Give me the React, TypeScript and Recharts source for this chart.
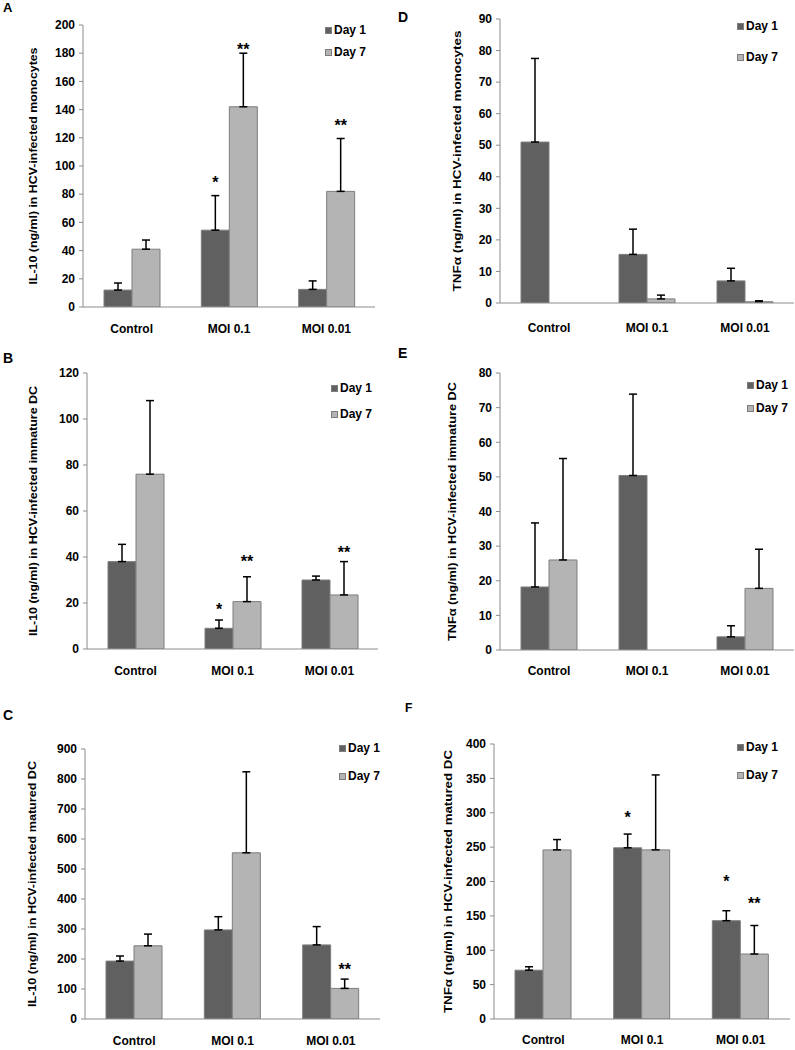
import React from "react";
import { BarChart, Bar, XAxis, YAxis, ErrorBar, Legend, LabelList, Label } from "recharts";

const categories = ["Control", "MOI 0.1", "MOI 0.01"];
const seriesNames = ["Day 1", "Day 7"];

// A: IL-10, monocytes
const aDay1 = [12, 54.5, 12.5];
const aDay1Err = [5, 24.5, 6];
const aDay7 = [41, 142, 82];
const aDay7Err = [6.5, 38, 37.5];
const aStars1 = ["", "*", ""];
const aStarAt1 = [0, 91, 0];
const aStars7 = ["", "**", "**"];
const aStarAt7 = [0, 185, 131];

// B: IL-10, immature DC
const bDay1 = [38, 9, 30];
const bDay1Err = [7.5, 3.6, 1.7];
const bDay7 = [76, 20.6, 23.5];
const bDay7Err = [32, 10.8, 14.5];
const bStars1 = ["", "*", ""];
const bStarAt1 = [0, 18.8, 0];
const bStars7 = ["", "**", "**"];
const bStarAt7 = [0, 39.4, 43.3];

// C: IL-10, matured DC
const cDay1 = [193, 297, 247];
const cDay1Err = [17, 44, 61];
const cDay7 = [244, 554, 102];
const cDay7Err = [39, 270, 31];
const cStars7 = ["", "", "**"];
const cStarAt7 = [0, 0, 177];

// D: TNFa, monocytes
const dDay1 = [51, 15.4, 7];
const dDay1Err = [26.5, 8, 4];
const dDay7 = [0, 1.3, 0.4];
const dDay7Err = [null, 1.2, 0.3];

// E: TNFa, immature DC
const eDay1 = [18.2, 50.4, 3.8];
const eDay1Err = [18.5, 23.5, 3.2];
const eDay7 = [26, 0, 17.8];
const eDay7Err = [29.3, null, 11.3];

// F: TNFa, matured DC
const fDay1 = [71, 249, 143];
const fDay1Err = [5, 20, 14.5];
const fDay7 = [246, 246, 94.5];
const fDay7Err = [15, 109, 41.5];
const fStars1 = ["", "*", "*"];
const fStarAt1 = [0, 298, 205.5];
const fStars7 = ["", "", "**"];
const fStarAt7 = [0, 0, 173];

const ticksA = [0, 20, 40, 60, 80, 100, 120, 140, 160, 180, 200];
const ticksB = [0, 20, 40, 60, 80, 100, 120];
const ticksC = [0, 100, 200, 300, 400, 500, 600, 700, 800, 900];
const ticksD = [0, 10, 20, 30, 40, 50, 60, 70, 80, 90];
const ticksE = [0, 10, 20, 30, 40, 50, 60, 70, 80];
const ticksF = [0, 50, 100, 150, 200, 250, 300, 350, 400];

const DARK = "#606060";
const LIGHT = "#b4b4b4";
const EDGE = "#7d7d7d";
const AXIS = "#8c8c8c";
const FONT = "'Liberation Sans', Arial, sans-serif";

function buildRows(d1: number[], e1: (number | null)[], d7: number[], e7: (number | null)[]) {
  return categories.map((cat, i) => ({
    cat,
    d1: d1[i],
    e1: e1[i] == null ? null : [0, e1[i]],
    d7: d7[i],
    e7: e7[i] == null ? null : [0, e7[i]],
  }));
}

function starLabel(values: number[], marks?: string[], at?: number[]) {
  return (p: any) => {
    const i = p.index;
    const m = marks?.[i];
    if (!m || !at) return null;
    const h = Number(p.height);
    const y = Number(p.y);
    const ppu = h / values[i];
    const cy = y + h - at[i] * ppu;
    return (
      <text x={Number(p.x) + Number(p.width) / 2} y={cy + 9} textAnchor="middle" fontSize={16}
        fontWeight="bold" fontFamily={FONT} fill="#000">
        {m}
      </text>
    );
  };
}

function legendContent(gap: number) {
  return () => (
    <div style={{ fontFamily: FONT, fontWeight: "bold", fontSize: 12, color: "#000" }}>
      {seriesNames.map((n, i) => (
        <div key={n} style={{ display: "flex", alignItems: "center", height: 14, marginBottom: i === 0 ? gap - 14 : 0 }}>
          <span style={{ display: "inline-block", width: 7, height: 7, boxSizing: "border-box",
            background: i === 0 ? DARK : LIGHT, border: `1px solid ${EDGE}`, marginRight: 2 }} />
          <span>{n}</span>
        </div>
      ))}
    </div>
  );
}

type PanelProps = {
  left: number; top: number; width: number; height: number;
  margin: { top: number; right: number; bottom: number; left: number };
  yWidth: number; domain: [number, number]; ticks: number[];
  yLabel: string; yLabelX: number; yLabelLen: number; catMargin: number;
  legendX: number; legendY: number; legendGap: number;
  d1: number[]; e1: (number | null)[]; d7: number[]; e7: (number | null)[];
  stars1?: string[]; at1?: number[]; stars7?: string[]; at7?: number[];
};

function Panel(p: PanelProps) {
  const rows = buildRows(p.d1, p.e1, p.d7, p.e7);
  const tickFont = { fill: "#000", fontSize: 12, fontWeight: "bold", fontFamily: FONT };
  return (
    <div style={{ position: "absolute", left: p.left, top: p.top, width: p.width, height: p.height }}>
      <BarChart width={p.width} height={p.height} data={rows} margin={p.margin} barGap={0}>
        <XAxis xAxisId="div" type="number" domain={[0, 3]} ticks={[0, 1, 2, 3]} tick={false}
          axisLine={false} tickLine={{ stroke: AXIS }} tickSize={5} height={0} allowDataOverflow />
        <XAxis xAxisId="cat" dataKey="cat" axisLine={{ stroke: AXIS }} tickLine={false} tickSize={0}
          tickMargin={p.catMargin} height={30} interval={0} tick={tickFont} />
        <YAxis domain={p.domain} ticks={p.ticks} width={p.yWidth} interval={0} tickSize={4} tickMargin={4}
          axisLine={{ stroke: AXIS }} tickLine={{ stroke: AXIS }} tick={tickFont} allowDataOverflow>
          <Label
            content={(lp: any) => {
              const vb = lp.viewBox;
              const cy = vb.y + vb.height / 2;
              return (
                <text x={p.yLabelX} y={cy} transform={`rotate(-90 ${p.yLabelX} ${cy})`} textAnchor="middle"
                  dominantBaseline="central" fontSize={11} fontWeight="bold" fontFamily={FONT} fill="#000"
                  textLength={p.yLabelLen} lengthAdjust="spacingAndGlyphs">
                  {p.yLabel}
                </text>
              );
            }}
          />
        </YAxis>
        <Legend layout="horizontal" verticalAlign="middle" align="center" content={legendContent(p.legendGap)}
          wrapperStyle={{ position: "absolute", left: p.legendX, top: p.legendY, width: "auto", height: "auto" }} />
        <Bar xAxisId="cat" dataKey="d1" name="Day 1" fill={DARK} stroke={EDGE} barSize={28} isAnimationActive={false}>
          <ErrorBar dataKey="e1" width={4} stroke="#000" strokeWidth={1.5} direction="y" />
          <LabelList dataKey="d1" content={starLabel(p.d1, p.stars1, p.at1)} />
        </Bar>
        <Bar xAxisId="cat" dataKey="d7" name="Day 7" fill={LIGHT} stroke={EDGE} barSize={28} isAnimationActive={false}>
          <ErrorBar dataKey="e7" width={4} stroke="#000" strokeWidth={1.5} direction="y" />
          <LabelList dataKey="d7" content={starLabel(p.d7, p.stars7, p.at7)} />
        </Bar>
      </BarChart>
    </div>
  );
}

const letterStyle = (left: number, top: number, size: number): React.CSSProperties => ({
  position: "absolute", left, top, fontSize: size, lineHeight: 1, fontWeight: "bold", fontFamily: FONT, color: "#000",
});

export default function App() {
  return (
    <div style={{ position: "absolute", left: 0, top: 0, width: 795, height: 1050, background: "#fff", overflow: "hidden" }}>
      <div style={letterStyle(3, 1, 13)}>A</div>
      <div style={letterStyle(398, 10, 14)}>D</div>
      <div style={letterStyle(3, 351, 14)}>B</div>
      <div style={letterStyle(398, 346, 14)}>E</div>
      <div style={letterStyle(3, 708, 14)}>C</div>
      <div style={letterStyle(405, 702, 12)}>F</div>

      <Panel left={0} top={0} width={400} height={340} margin={{ top: 25, right: 25, bottom: 3, left: 0 }}
        yWidth={83} domain={[0, 200]} ticks={ticksA} yLabel="IL-10 (ng/ml) in HCV-infected monocytes"
        yLabelX={33} yLabelLen={237} catMargin={17} legendX={325} legendY={23} legendGap={22}
        d1={aDay1} e1={aDay1Err} d7={aDay7} e7={aDay7Err} stars1={aStars1} at1={aStarAt1} stars7={aStars7} at7={aStarAt7} />

      <Panel left={400} top={0} width={395} height={340} margin={{ top: 19, right: 1, bottom: 7, left: 0 }}
        yWidth={100} domain={[0, 90]} ticks={ticksD} yLabel="TNFα (ng/ml) in HCV-infected monocytes"
        yLabelX={57} yLabelLen={261} catMargin={20} legendX={337} legendY={19} legendGap={31}
        d1={dDay1} e1={dDay1Err} d7={dDay7} e7={dDay7Err} />

      <Panel left={0} top={340} width={400} height={340} margin={{ top: 33, right: 22, bottom: 1, left: 0 }}
        yWidth={87} domain={[0, 120]} ticks={ticksB} yLabel="IL-10 (ng/ml) in HCV-infected immature DC"
        yLabelX={33} yLabelLen={250} catMargin={17} legendX={331} legendY={41} legendGap={26}
        d1={bDay1} e1={bDay1Err} d7={bDay7} e7={bDay7Err} stars1={bStars1} at1={bStarAt1} stars7={bStars7} at7={bStarAt7} />

      <Panel left={400} top={340} width={395} height={340} margin={{ top: 33, right: 1, bottom: 0, left: 0 }}
        yWidth={100} domain={[0, 80]} ticks={ticksE} yLabel="TNFα (ng/ml) in HCV-infected immature DC"
        yLabelX={52} yLabelLen={259} catMargin={16} legendX={347} legendY={38} legendGap={23}
        d1={eDay1} e1={eDay1Err} d7={eDay7} e7={eDay7Err} />

      <Panel left={0} top={680} width={400} height={370} margin={{ top: 69, right: 20, bottom: 1, left: 0 }}
        yWidth={85} domain={[0, 900]} ticks={ticksC} yLabel="IL-10 (ng/ml) in HCV-infected matured DC"
        yLabelX={32} yLabelLen={246} catMargin={17} legendX={339} legendY={61} legendGap={28}
        d1={cDay1} e1={cDay1Err} d7={cDay7} e7={cDay7Err} stars7={cStars7} at7={cStarAt7} />

      <Panel left={400} top={680} width={395} height={370} margin={{ top: 64, right: 5, bottom: 1, left: 0 }}
        yWidth={94} domain={[0, 400]} ticks={ticksF} yLabel="TNFα (ng/ml) in HCV-infected matured DC"
        yLabelX={48} yLabelLen={263} catMargin={16} legendX={337} legendY={60} legendGap={28}
        d1={fDay1} e1={fDay1Err} d7={fDay7} e7={fDay7Err} stars1={fStars1} at1={fStarAt1} stars7={fStars7} at7={fStarAt7} />
    </div>
  );
}
